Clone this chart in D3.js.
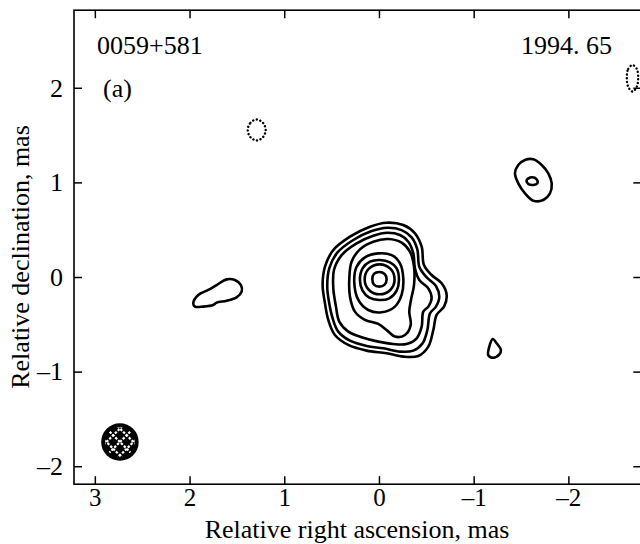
<!DOCTYPE html>
<html><head><meta charset="utf-8">
<script src="https://cdn.jsdelivr.net/npm/d3@7"></script>
<style>html,body{margin:0;padding:0;background:#fff;overflow:hidden}</style>
</head><body><svg id="c" width="640" height="544"></svg>
<script>
// ---------- data (mas) ----------
const xTicks = [3, 2, 1, 0, -1, -2];
const yTicks = [2, 1, 0, -1, -2];
const xDomain = [3.22, -2.77];
const yDomain = [-2.19, 2.82];
const sourceName = "0059+581";
const epochLabel = "1994. 65";
const panelLabel = "(a)";
const xTitle = "Relative right ascension, mas";
const yTitle = "Relative declination, mas";

// main component contours, outermost first
const c8 = [[0.570,0.109],[0.482,0.285],[0.306,0.426],[0.095,0.532],[-0.081,0.574],[-0.257,0.549],[-0.380,0.461],[-0.451,0.320],[-0.475,0.127],[-0.556,0.021],[-0.662,-0.067],[-0.715,-0.190],[-0.687,-0.313],[-0.609,-0.401],[-0.574,-0.560],[-0.521,-0.736],[-0.415,-0.835],[-0.257,-0.842],[-0.081,-0.806],[0.130,-0.778],[0.324,-0.718],[0.465,-0.613],[0.535,-0.454],[0.570,-0.278],[0.595,-0.085]];
const c7 = [[0.525,0.092],[0.440,0.257],[0.271,0.391],[0.077,0.486],[-0.088,0.521],[-0.239,0.496],[-0.345,0.419],[-0.405,0.292],[-0.426,0.109],[-0.496,0.004],[-0.602,-0.095],[-0.637,-0.208],[-0.602,-0.313],[-0.539,-0.384],[-0.511,-0.560],[-0.461,-0.701],[-0.363,-0.778],[-0.222,-0.789],[-0.046,-0.754],[0.130,-0.729],[0.306,-0.673],[0.430,-0.577],[0.489,-0.437],[0.525,-0.278],[0.546,-0.102]];
const c6 = [[0.475,0.074],[0.394,0.232],[0.236,0.356],[0.060,0.437],[-0.088,0.468],[-0.222,0.444],[-0.310,0.373],[-0.363,0.250],[-0.380,0.092],[-0.426,-0.032],[-0.521,-0.120],[-0.556,-0.225],[-0.521,-0.313],[-0.468,-0.366],[-0.451,-0.525],[-0.398,-0.648],[-0.292,-0.708],[-0.151,-0.708],[0.007,-0.683],[0.183,-0.637],[0.324,-0.577],[0.419,-0.472],[0.454,-0.313],[0.482,-0.120]];
const c5 = [[0.313,-0.014],[0.289,0.162],[0.201,0.292],[0.060,0.373],[-0.099,0.401],[-0.239,0.363],[-0.327,0.268],[-0.370,0.109],[-0.370,-0.085],[-0.338,-0.243],[-0.320,-0.366],[-0.335,-0.507],[-0.275,-0.613],[-0.169,-0.630],[-0.088,-0.567],[0.007,-0.496],[0.148,-0.454],[0.254,-0.366],[0.306,-0.208]];
const c4 = [[0.261,-0.049],[0.236,0.109],[0.148,0.208],[0.007,0.250],[-0.134,0.232],[-0.222,0.144],[-0.257,-0.014],[-0.239,-0.190],[-0.169,-0.313],[-0.028,-0.373],[0.113,-0.349],[0.218,-0.243]];
const c3 = [[0.201,-0.032],[0.173,0.092],[0.095,0.162],[-0.011,0.180],[-0.116,0.155],[-0.187,0.092],[-0.211,-0.032],[-0.187,-0.144],[-0.109,-0.225],[-0.004,-0.243],[0.102,-0.218],[0.173,-0.144]];
const c2 = [[0.151,-0.025],[0.106,0.088],[-0.007,0.134],[-0.120,0.088],[-0.165,-0.025],[-0.120,-0.137],[-0.007,-0.183],[0.106,-0.137]];
const c1 = [[0.070,-0.025],[0.053,0.032],[-0.004,0.053],[-0.060,0.032],[-0.081,-0.025],[-0.060,-0.081],[-0.004,-0.102],[0.053,-0.081]];

// other features
const eastBlob = [[1.961,-0.278],[1.908,-0.190],[1.802,-0.137],[1.714,-0.085],[1.608,-0.025],[1.521,-0.032],[1.457,-0.085],[1.450,-0.155],[1.503,-0.215],[1.608,-0.250],[1.714,-0.271],[1.750,-0.296],[1.855,-0.313],[1.943,-0.313]];
const westBlobOuter = [[-1.471,1.184],[-1.542,1.237],[-1.630,1.244],[-1.718,1.184],[-1.788,1.096],[-1.824,0.990],[-1.806,0.885],[-1.735,0.814],[-1.630,0.807],[-1.542,0.885],[-1.471,0.990],[-1.436,1.096]];
const westBlobInner = [[-1.560,1.025],[-1.612,1.054],[-1.665,1.033],[-1.672,0.990],[-1.630,0.973],[-1.577,0.984]];
const smallKnot = [[-1.201,-0.655],[-1.243,-0.701],[-1.288,-0.772],[-1.271,-0.817],[-1.207,-0.853],[-1.154,-0.825],[-1.165,-0.737]];
const negA = [[1.386,1.554],[1.358,1.629],[1.291,1.665],[1.224,1.629],[1.196,1.554],[1.224,1.479],[1.291,1.443],[1.358,1.479]];
const negB = [[-2.617,2.105],[-2.632,2.200],[-2.677,2.240],[-2.722,2.200],[-2.737,2.105],[-2.722,2.010],[-2.677,1.960],[-2.632,2.010]];
const beam = {x: 2.735, y: -1.744, r: 0.198};

// ---------- drawing ----------
const svg = d3.select("#c");
const font = "'Liberation Serif','Times New Roman',serif";
const fs = 26;
const x = d3.scaleLinear().domain(xDomain).range([74, 641.3]);
const y = d3.scaleLinear().domain(yDomain).range([484.2, 10.2]);
const fmt = d => (d < 0 ? "\u2013" + Math.abs(d) : String(d));

const line = d3.line().x(d => x(d[0])).y(d => y(d[1])).curve(d3.curveCatmullRomClosed.alpha(0.5));

const solid = [c8, c7, c6, c5, c4, c3, c2, c1, eastBlob, westBlobOuter, westBlobInner, smallKnot];
svg.append("g").selectAll("path").data(solid).join("path")
  .attr("d", line).attr("fill", "none").attr("stroke", "#000")
  .attr("stroke-width", 2.6).attr("stroke-linejoin", "round");

svg.append("g").selectAll("path").data([negA, negB]).join("path")
  .attr("d", line).attr("fill", "none").attr("stroke", "#000")
  .attr("stroke-width", 2.4).attr("stroke-dasharray", "0.1,3.6").attr("stroke-linecap", "round");

// beam
const bx = x(beam.x), by = y(beam.y), br = Math.abs(x(0) - x(beam.r));
svg.append("clipPath").attr("id", "bclip").append("circle").attr("cx", bx).attr("cy", by).attr("r", br - 4);
svg.append("circle").attr("cx", bx).attr("cy", by).attr("r", br).attr("fill", "#000");
const bg = svg.append("g").attr("clip-path", "url(#bclip)");
const s = br * 0.72;
[-s, 0, s].forEach(o => {
  bg.append("line").attr("x1", bx - br + o).attr("y1", by - br).attr("x2", bx + br + o).attr("y2", by + br)
    .attr("stroke", "#fff").attr("stroke-width", 2.2).attr("stroke-dasharray", "2.5,1.5");
  bg.append("line").attr("x1", bx + br + o).attr("y1", by - br).attr("x2", bx - br + o).attr("y2", by + br)
    .attr("stroke", "#fff").attr("stroke-width", 2.2).attr("stroke-dasharray", "2.5,1.5");
});

// axes
function style(g, labels, size) {
  g.select(".domain").remove();
  g.selectAll(".tick line").attr("stroke", "#000").attr("stroke-width", 1.5);
  g.selectAll("text").attr("font-family", font).attr("font-size", size).attr("fill", "#000");
  if (!labels) g.selectAll("text").remove();
}
svg.append("g").attr("transform", "translate(0,484.2)")
  .call(d3.axisBottom(x).tickValues(xTicks).tickSizeInner(-8).tickSizeOuter(0).tickPadding(4).tickFormat(fmt))
  .call(g => style(g, true, 25));
svg.append("g").attr("transform", "translate(0,10.2)")
  .call(d3.axisTop(x).tickValues(xTicks).tickSizeInner(-8).tickSizeOuter(0))
  .call(g => style(g, false, fs));
svg.append("g").attr("transform", "translate(74,0)")
  .call(d3.axisLeft(y).tickValues(yTicks).tickSizeInner(-8).tickSizeOuter(0).tickPadding(11).tickFormat(fmt))
  .call(g => style(g, true, fs));
svg.append("g").attr("transform", "translate(641.3,0)")
  .call(d3.axisRight(y).tickValues(yTicks).tickSizeInner(-8).tickSizeOuter(0))
  .call(g => style(g, false, fs));

svg.append("rect").attr("x", 74).attr("y", 10.2).attr("width", 567.3).attr("height", 474)
  .attr("fill", "none").attr("stroke", "#000").attr("stroke-width", 1.6);

// texts
const t = (txt, px, py, anchor) => svg.append("text").attr("x", px).attr("y", py)
  .attr("text-anchor", anchor).attr("font-family", font).attr("font-size", fs).attr("fill", "#000").text(txt);
t(sourceName, 97, 54, "start");
t(epochLabel, 612, 54, "end");
t(panelLabel, 103, 97, "start");
t(xTitle, 357, 537.5, "middle");
svg.append("text").attr("transform", "translate(29,257) rotate(-90)")
  .attr("text-anchor", "middle").attr("font-family", font).attr("font-size", fs).attr("fill", "#000").text(yTitle);
</script></body></html>
